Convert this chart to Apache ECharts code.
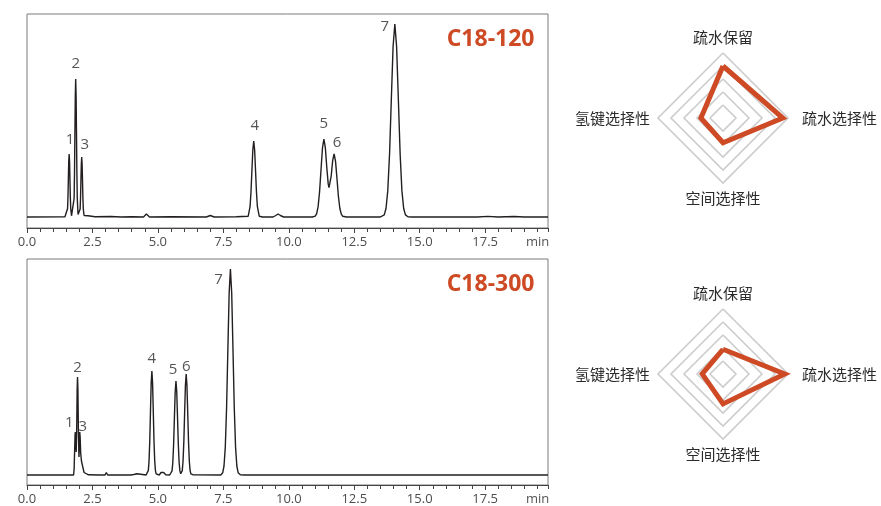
<!DOCTYPE html>
<html><head><meta charset="utf-8">
<script src="https://cdn.jsdelivr.net/npm/echarts@6/dist/echarts.min.js"></script>
<style>html,body{margin:0;padding:0;background:#fff}#c{width:881px;height:506px}</style>
</head><body><div id="c"></div>
<script>
// ---------- data ----------
const columnNames = ['C18-120', 'C18-300'];
const timeUnit = 'min';
const xTickValues = [0, 2.5, 5, 7.5, 10, 12.5, 15, 17.5];
const peakNames = ['1', '2', '3', '4', '5', '6', '7'];

const peakTimes120 = [1.61, 1.86, 2.09, 8.66, 11.34, 11.73, 14.05];
const peakHeights120 = [63, 138, 60, 76, 78, 63, 193];
const peakTimes300 = [1.845, 1.93, 2.015, 4.77, 5.69, 6.08, 7.77];
const peakHeights300 = [43, 98, 43, 104, 94, 101, 206];

const trace120 = [
[0,0],[1.45,0.3],[1.52,0.8],[1.55,8.5],[1.565,20],[1.58,38],[1.595,56],[1.61,63],[1.625,56],[1.64,38],[1.655,20],[1.67,8.5],[1.70,1.2],[1.735,0.8],
[1.77,2],[1.80,18.6],[1.815,45],[1.83,84],[1.845,121],[1.86,138],[1.875,121],[1.89,84],[1.905,45],[1.92,18.6],[1.95,2.5],[1.975,1],
[2.0,1.5],[2.03,8],[2.045,19.5],[2.06,36.5],[2.075,53],[2.09,60],[2.105,53],[2.12,36.5],[2.135,19.5],[2.15,8],[2.18,1.5],[2.25,0.5],[2.33,1.2],[2.40,0.4],
[2.6,0.2],[3.2,0.5],[3.6,0],[4.0,0.3],[4.45,0],[4.52,1.5],[4.56,3],[4.6,1.5],[4.68,0],[5.5,0.2],[6.85,0],[7.0,1.5],[7.15,0],[8.0,0.2],
[8.45,0.8],[8.52,10.3],[8.555,24.7],[8.59,46],[8.625,67],[8.66,76],[8.695,67],[8.73,46],[8.765,24.7],[8.80,10.3],[8.87,0.8],[9.0,0],
[9.4,0],[9.5,1.5],[9.59,3],[9.68,1.5],[9.8,0],[10.9,0],
[11.01,0.9],[11.065,3.4],[11.12,10.6],[11.175,25.3],[11.23,47.3],[11.285,68.8],[11.34,78],[11.395,69.4],[11.45,49.7],[11.505,33.1],[11.535,29.3],
[11.565,30.1],[11.62,41.2],[11.675,56.3],[11.73,63],[11.785,55.6],[11.84,38.2],[11.895,20.5],[11.95,8.5],[12.005,2.8],[12.06,0.7],[12.2,0],
[13.5,0],[13.645,2.1],[13.7125,8.5],[13.78,26.1],[13.8475,62.7],[13.915,117.1],[13.9825,170.3],[14.05,193],[14.1175,170.3],[14.185,117.1],
[14.2525,62.7],[14.32,26.1],[14.3875,8.5],[14.455,2.1],[14.55,0.3],[14.7,0],[17.2,0],[17.6,0.6],[18.0,0],[18.6,0.5],[19.0,0],[19.9,0]
];

const trace300 = [
[0,0],[1.78,0],[1.80,6],[1.82,25],[1.835,40],[1.845,43],[1.86,33],[1.88,23],[1.9,50],[1.915,85],[1.93,98],[1.945,85],[1.965,40],[1.985,18],
[2.0,30],[2.015,43],[2.03,38],[2.05,22],[2.08,14],[2.11,13],[2.14,7],[2.18,2.5],[2.23,0.8],[2.35,0.2],
[2.78,0],[2.84,1.5],[2.9,0],[2.98,0],[3.03,2.5],[3.08,0],[3.95,0],[4.02,2],[4.08,0.5],[4.15,0.5],[4.2,1.2],[4.26,0],
[4.55,0],[4.608,1.2],[4.635,4.6],[4.662,14.1],[4.689,33.8],[4.716,63.1],[4.743,91.8],[4.77,104],[4.797,91.8],[4.824,63.1],[4.851,33.8],
[4.878,14.1],[4.905,4.6],[4.932,1.2],[5.0,0.2],[5.05,0],[5.12,2.5],[5.17,4],[5.22,2.5],[5.3,0.3],[5.45,0],
[5.51,1.0],[5.54,4.1],[5.57,12.7],[5.60,30.5],[5.63,57],[5.66,83],[5.69,94],[5.72,83],[5.75,57],[5.78,30.5],[5.81,12.7],[5.84,4.1],[5.87,1.3],[5.885,1.2],
[5.90,1.3],[5.93,4.4],[5.96,13.7],[5.99,32.8],[6.02,61.3],[6.05,89.1],[6.08,101],[6.11,89.1],[6.14,61.3],[6.17,32.8],[6.20,13.7],[6.23,4.4],[6.26,1.1],[6.35,0.1],
[7.4,0],[7.476,2.3],[7.525,9.0],[7.574,27.9],[7.623,66.9],[7.672,124.9],[7.721,181.8],[7.77,206],[7.819,181.8],[7.868,124.9],[7.917,66.9],
[7.966,27.9],[8.015,9.0],[8.064,2.3],[8.15,0.3],[8.3,0],[19.9,0]
];

const radarIndicators = ['疏水保留', '氢键选择性', '空间选择性', '疏水选择性'];
const radarMax = 5;
const radar120 = [4.0, 1.7, 1.9, 4.6];
const radar300 = [1.9, 1.6, 2.3, 4.75];

// ---------- styles / layout ----------
const FONT = "'Open Sans', 'Noto Sans CJK SC', sans-serif";
const CJK = "'Noto Sans CJK SC', sans-serif";
const ORANGE = '#cd4a24';
const labelOffsets120 = [[1,-14],[0,-15],[3,-12],[1,-15],[0,-15],[3,-11],[-10,3]];
const labelOffsets300 = [[-6,-9],[0,-9],[3,-5],[0,-12],[-3,-11],[0,-7],[-12,11]];

const grids = [
  {left: 27, top: 14, width: 521, height: 214},
  {left: 27, top: 259, width: 521, height: 226}
];
const yRanges = [[-11, 203], [-10, 216]];

function majorAxis(gi) {
  return {
    gridIndex: gi, type: 'value', position: 'bottom', min: 0, max: 19.9, interval: 2.5,
    axisLine: {show: true, onZero: false, lineStyle: {color: '#444', width: 1}},
    axisTick: {show: true, inside: false, length: 5, lineStyle: {color: '#444', width: 1}},
    minorTick: {show: false},
    axisLabel: {show: true, showMaxLabel: false, margin: 8, color: '#4d4d4d', fontSize: 13, fontFamily: FONT,
      formatter: v => (xTickValues.indexOf(v) >= 0 ? v.toFixed(1) : '')},
    splitLine: {show: false},
    name: timeUnit, nameLocation: 'end', nameGap: -22,
    nameTextStyle: {color: '#555', fontSize: 13, fontFamily: FONT, align: 'left', verticalAlign: 'top', padding: [8, 0, 0, 0]}
  };
}
function minorAxis(gi) {
  return {
    gridIndex: gi, type: 'value', position: 'bottom', offset: 0, min: 0, max: 19.9, interval: 0.5,
    axisLine: {show: false, onZero: false},
    axisTick: {show: true, inside: false, length: 4, lineStyle: {color: '#444', width: 1}},
    axisLabel: {show: false}, splitLine: {show: false}
  };
}
function peakLabelSeries(ax, times, heights, offsets) {
  return {
    type: 'scatter', xAxisIndex: ax, yAxisIndex: ax / 2, symbolSize: 1, silent: true,
    itemStyle: {color: 'rgba(0,0,0,0)'},
    data: times.map((t, i) => ({
      value: [t, heights[i]],
      label: {show: true, position: 'inside', formatter: peakNames[i], offset: offsets[i],
        color: '#2a2a2a', fontSize: 15, fontFamily: FONT}
    })),
    z: 5
  };
}
function radarComp(cy) {
  return {
    center: [723, cy], radius: 65, startAngle: 90, splitNumber: 5, shape: 'polygon',
    indicator: radarIndicators.map(n => ({name: n, min: 0, max: radarMax})),
    nameGap: 8,
    axisName: {color: '#2a2a2a', fontSize: 15, fontFamily: CJK,
      formatter: n => (n === radarIndicators[3] ? '{r|' + n + '}' : n),
      rich: {r: {padding: [0, 0, 0, 6], color: '#2a2a2a', fontSize: 15, fontFamily: CJK}}},
    axisLine: {show: false}, axisTick: {show: false}, axisLabel: {show: false},
    splitArea: {show: false},
    splitLine: {show: true, lineStyle: {color: '#cccccc', width: 1.6}}
  };
}

const option = {
  animation: false,
  backgroundColor: '#fff',
  grid: grids.map(g => Object.assign({show: true, borderColor: '#7a7a7a', borderWidth: 1,
    backgroundColor: 'transparent', containLabel: false, outerBoundsMode: 'none'}, g)),
  xAxis: [majorAxis(0), minorAxis(0), majorAxis(1), minorAxis(1)],
  yAxis: yRanges.map((r, i) => ({gridIndex: i, type: 'value', min: r[0], max: r[1], show: false})),
  radar: [radarComp(118), radarComp(374)],
  graphic: columnNames.map((name, i) => ({
    type: 'text', silent: true,
    style: {text: name, x: 534.5, y: i === 0 ? 39 : 284.5, fill: ORANGE,
      font: 'bold 23px ' + FONT, textAlign: 'right', textVerticalAlign: 'middle',
      align: 'right', verticalAlign: 'middle'}
  })),
  series: [
    {type: 'line', xAxisIndex: 0, yAxisIndex: 0, data: trace120, symbol: 'none', smooth: false,
      lineStyle: {color: '#231f20', width: 1.4}, silent: true, z: 3},
    {type: 'line', xAxisIndex: 2, yAxisIndex: 1, data: trace300, symbol: 'none', smooth: false,
      lineStyle: {color: '#231f20', width: 1.4}, silent: true, z: 3},
    peakLabelSeries(0, peakTimes120, peakHeights120, labelOffsets120),
    peakLabelSeries(2, peakTimes300, peakHeights300, labelOffsets300),
    {type: 'radar', radarIndex: 0, symbol: 'none', silent: true,
      lineStyle: {color: ORANGE, width: 5, join: 'miter'}, areaStyle: {opacity: 0},
      data: [{value: radar120, name: columnNames[0]}]},
    {type: 'radar', radarIndex: 1, symbol: 'none', silent: true,
      lineStyle: {color: ORANGE, width: 5, join: 'miter'}, areaStyle: {opacity: 0},
      data: [{value: radar300, name: columnNames[1]}]}
  ]
};
const chart = echarts.init(document.getElementById('c'), null, {renderer: 'canvas'});
chart.setOption(option);
</script></body></html>
